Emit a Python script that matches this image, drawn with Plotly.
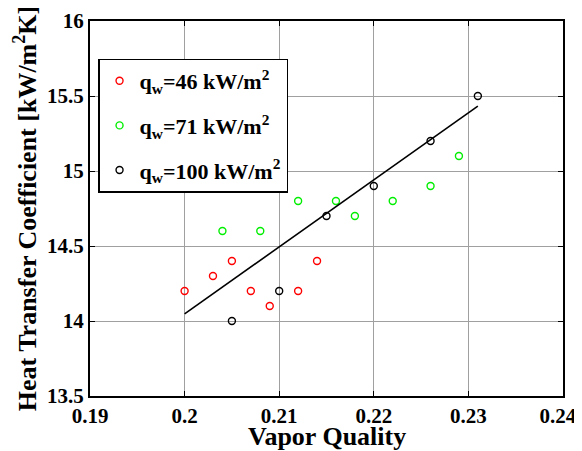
import plotly.graph_objects as go

# Data
x_q46 = [0.200, 0.203, 0.205, 0.207, 0.209, 0.212, 0.214]
y_q46 = [14.2, 14.3, 14.4, 14.2, 14.1, 14.2, 14.4]

x_q71 = [0.204, 0.208, 0.212, 0.216, 0.218, 0.222, 0.226, 0.229]
y_q71 = [14.6, 14.6, 14.8, 14.8, 14.7, 14.8, 14.9, 15.1]

x_q100 = [0.205, 0.210, 0.215, 0.220, 0.226, 0.231]
y_q100 = [14.0, 14.2, 14.7, 14.9, 15.2, 15.5]

fit_x = [0.200, 0.231]
fit_y = [14.047, 15.433]

x_ticks = [0.19, 0.20, 0.21, 0.22, 0.23, 0.24]
x_ticktext = ["0.19", "0.2", "0.21", "0.22", "0.23", "0.24"]
y_ticks = [13.5, 14.0, 14.5, 15.0, 15.5, 16.0]
y_ticktext = ["13.5", "14", "14.5", "15", "15.5", "16"]

FONT = "Liberation Serif"

fig = go.Figure()

def scatter(x, y, color, name, group):
    return go.Scatter(
        x=x, y=y, mode="markers", name=name, legendgroup=group,
        marker=dict(symbol="circle-open", size=7, color=color,
                    line=dict(width=1.4, color=color)),
    )

fig.add_trace(scatter(x_q46, y_q46, "#ff0000", "<b>q<sub>w</sub>=46 kW/m<sup>2</sup></b>", "a"))
fig.add_trace(scatter(x_q71, y_q71, "#00ee00", "<b>q<sub>w</sub>=71 kW/m<sup>2</sup></b>", "b"))
fig.add_trace(scatter(x_q100, y_q100, "#000000", "<b>q<sub>w</sub>=100 kW/m<sup>2</sup></b>", "c"))
fig.add_trace(go.Scatter(x=fit_x, y=fit_y, mode="lines", showlegend=False,
                         line=dict(color="black", width=1.6)))

axis_common = dict(
    showline=True, linecolor="black", linewidth=2, mirror="allticks",
    ticks="inside", ticklen=5, tickcolor="black", tickwidth=1,
    showgrid=True, gridcolor="#a0a0a0", gridwidth=1, zeroline=False,
    tickfont=dict(family=FONT, size=21, color="black"),
    automargin=False,
)

x_labels = ["<b>%s</b>" % t for t in x_ticktext]
x_labels[-1] = x_labels[-1] + "&nbsp;&nbsp;"

fig.update_xaxes(
    range=[0.19, 0.2400001], tickvals=x_ticks, ticktext=x_labels,
    **axis_common,
)
fig.update_yaxes(
    range=[13.5, 16.0], tickvals=y_ticks,
    ticktext=["<b>%s</b>" % t for t in y_ticktext],
    title=dict(text="<b>Heat Transfer Coefficient [kW/m<sup>2</sup>K]</b>",
               font=dict(family=FONT, size=26, color="black"), standoff=3),
    **axis_common,
)

fig.add_annotation(
    text="<b>Vapor Quality</b>", xref="paper", yref="paper",
    x=0.5, y=-0.108, xanchor="center", yanchor="middle", showarrow=False,
    font=dict(family=FONT, size=26, color="black"),
)

fig.update_layout(
    width=582, height=451,
    margin=dict(l=82, r=27, t=13, b=63),
    paper_bgcolor="white", plot_bgcolor="white",
    font=dict(family=FONT, color="black"),
    legend=dict(
        x=0.017, y=0.9, xanchor="left", yanchor="top",
        bgcolor="white", bordercolor="black", borderwidth=1.5,
        font=dict(family=FONT, size=22, color="black"),
        tracegroupgap=13, itemwidth=30,
    ),
)

fig.write_html("out.html")
